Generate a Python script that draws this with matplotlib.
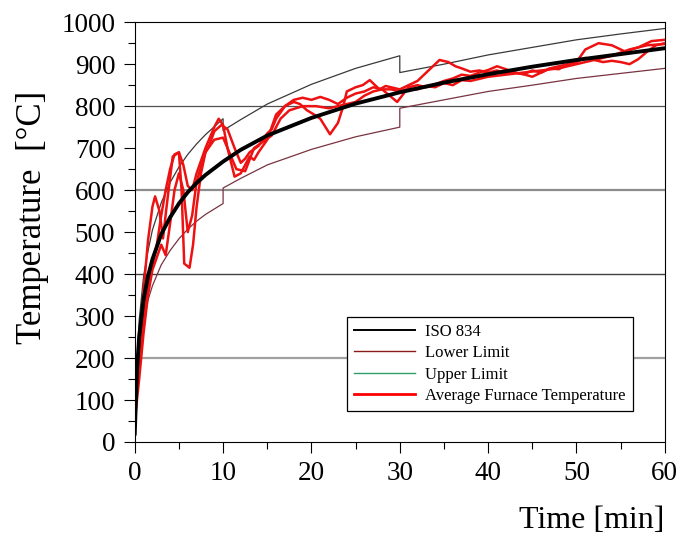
import matplotlib
matplotlib.use('agg')
import matplotlib.pyplot as plt
from matplotlib.lines import Line2D
from matplotlib.ticker import MultipleLocator

plt.rcParams.update({
    "font.family": ["Liberation Serif", "DejaVu Serif"],
    "font.size": 19.5})

# ISO 834 standard curve
iso_t = [0, 0.25, 0.5, 1, 1.5, 2, 3, 4, 5, 6, 7, 8, 10, 12, 15, 20, 25, 30, 35, 40, 45, 50, 55, 60]
iso_T = [20, 170, 250, 340, 395, 435, 495, 535, 568, 595, 617, 636, 668, 696, 730, 772, 806, 833, 856, 876, 894, 910, 924, 938]

# tolerance limits (step at 10 and 30 min)
upper_t = [0, 0.25, 0.5, 1, 1.5, 2, 3, 4, 5, 6, 7, 8, 10, 10, 12, 15, 20, 25, 30, 30, 35, 40, 45, 50, 55, 60]
upper_T = [23, 195, 290, 395, 455, 505, 570, 618, 655, 685, 710, 732, 770, 742, 768, 805, 852, 890, 920, 880, 900, 922, 940, 958, 972, 985]
lower_t = [0, 0.25, 0.5, 1, 1.5, 2, 3, 4, 5, 6, 7, 8, 10, 10, 12, 15, 20, 25, 30, 30, 35, 40, 45, 50, 55, 60]
lower_T = [17, 145, 215, 290, 338, 372, 422, 456, 484, 507, 526, 542, 568, 605, 628, 660, 697, 727, 750, 795, 815, 835, 850, 866, 878, 890]

# measured average furnace temperatures (three tests)
test1_t = [0, 0.5, 1, 1.5, 2, 2.5, 3, 3.5, 4, 4.5, 5, 5.3, 5.6, 6.2, 6.6, 7, 7.5, 8, 8.5, 9, 9.8, 10.5, 11.3, 12, 12.5,
           13, 14, 15, 15.5, 16, 17, 18, 18.7, 19.5, 20.3, 21, 22.1, 23, 23.6, 24, 25, 25.8, 26.6, 27.7, 28.4, 29, 30,
           31, 32, 33, 34.5, 35.5, 36.3, 37, 38, 39, 40, 41, 42, 43, 44, 45, 46, 47, 48, 49, 50, 51, 52.5, 54, 55.5,
           57, 58.5, 60]
test1_T = [70, 190, 300, 370, 420, 470, 540, 600, 650, 685, 690, 600, 425, 415, 470, 560, 640, 690, 710, 740, 755, 745,
           700, 665, 675, 690, 705, 735, 745, 770, 800, 810, 805, 790, 780, 770, 733, 760, 800, 835, 845, 850, 862, 840,
           848, 845, 840, 850, 860, 880, 910, 905, 895, 890, 882, 885, 880, 885, 878, 880, 876, 885, 880, 890, 888, 900,
           905, 935, 950, 945, 930, 940, 955, 958]
test2_t = [0, 0.5, 1, 1.5, 2, 2.3, 2.8, 3.2, 3.6, 4.3, 5, 5.5, 6, 6.5, 7, 8, 9, 9.5, 10, 10.5, 11.3, 12, 13, 13.5, 14,
           15, 16, 17, 18, 19, 20, 21, 22, 23, 24, 25, 26, 27, 28, 29.7, 31, 32, 33, 34, 35, 36, 37, 38, 39, 40, 41, 42,
           43, 44, 45, 46, 47, 48, 49, 50, 51, 52, 53, 54, 55, 56, 57, 58, 59, 60]
test2_T = [90, 230, 360, 480, 560, 585, 550, 485, 560, 680, 690, 660, 610, 600, 640, 700, 750, 770, 755, 700, 632, 640,
           680, 672, 690, 720, 780, 800, 815, 820, 815, 822, 815, 805, 820, 830, 835, 845, 840, 810, 845, 850, 845, 852,
           860, 866, 875, 872, 880, 886, 895, 888, 880, 876, 870, 880, 890, 895, 900, 905, 915, 910, 905, 908, 905, 900,
           912, 930, 945, 950]
test3_t = [0, 0.5, 1, 1.5, 2, 2.5, 3, 3.5, 4, 4.5, 5, 5.5, 6, 6.5, 7, 8, 9, 10, 10.5, 11.5, 12.5, 13.5, 14.5, 15.5, 16.5,
           17.5, 19, 20.5, 22, 23, 24, 25, 26, 27, 28, 29, 30, 31, 32, 33, 34, 35, 36, 37, 38, 40, 42, 44, 46, 48, 50,
           52, 54, 56, 58, 60]
test3_T = [50, 150, 260, 350, 410, 440, 470, 445, 520, 600, 640, 600, 500, 540, 620, 690, 720, 725, 700, 650, 645, 700,
           715, 730, 770, 790, 800, 800, 795, 800, 805, 810, 825, 835, 840, 840, 835, 842, 840, 848, 845, 855, 850, 862,
           860, 870, 875, 880, 885, 890, 900, 910, 920, 935, 945, 948]

grid_levels = [200, 400, 600, 800]
grid_colors = ['#a0a0a0', '#404040', '#8c8c8c', '#505050']
grid_widths = [1.6, 1.0, 1.6, 0.9]


def main():
    fig = plt.figure(figsize=(6.84, 5.41), dpi=100)
    ax = fig.add_axes([0.197, 0.183, 0.775, 0.776])

    for lvl, c, w in zip(grid_levels, grid_colors, grid_widths):
        ax.axhline(lvl, color=c, lw=w, zorder=1)

    ax.plot(upper_t, upper_T, color='#3a3a3a', lw=0.9, zorder=2)
    ax.plot(lower_t, lower_T, color='#7a3340', lw=0.9, zorder=2)
    for t, T in [(test1_t, test1_T), (test2_t, test2_T), (test3_t, test3_T)]:
        ax.plot(t, T, color='#ee1111', lw=1.8, zorder=3)
    ax.plot(iso_t, iso_T, color='black', lw=2.8, zorder=4)

    ax.set_xlim(0, 60)
    ax.set_ylim(0, 1000)
    ax.xaxis.set_major_locator(MultipleLocator(10))
    ax.xaxis.set_minor_locator(MultipleLocator(5))
    ax.yaxis.set_major_locator(MultipleLocator(100))
    ax.yaxis.set_minor_locator(MultipleLocator(50))
    ax.tick_params(which='major', direction='out', length=8, width=0.8, pad=6)
    ax.tick_params(which='minor', direction='out', length=5, width=0.8)

    ax.set_xlabel("Time [min]", loc='right', fontsize=23, labelpad=14)
    ax.set_ylabel("Temperature  [°C]", fontsize=25)
    ax.yaxis.set_label_coords(-0.162, 0.536)

    handles = [Line2D([], [], color='black', lw=1.4),
               Line2D([], [], color='#8b1a1a', lw=1.0),
               Line2D([], [], color='#2e9e6a', lw=1.0),
               Line2D([], [], color='#ff0000', lw=2.0)]
    labels = ["ISO 834", "Lower Limit", "Upper Limit", "Average Furnace Temperature"]
    leg = ax.legend(handles, labels, loc='lower right', bbox_to_anchor=(0.955, 0.055),
                    fontsize=12, handlelength=3.7, handletextpad=0.6, labelspacing=0.32,
                    fancybox=False, framealpha=1, edgecolor='black', borderpad=0.4)
    leg.get_frame().set_linewidth(0.9)

    fig.savefig("out.png", dpi=100)


if __name__ == "__main__":
    main()
